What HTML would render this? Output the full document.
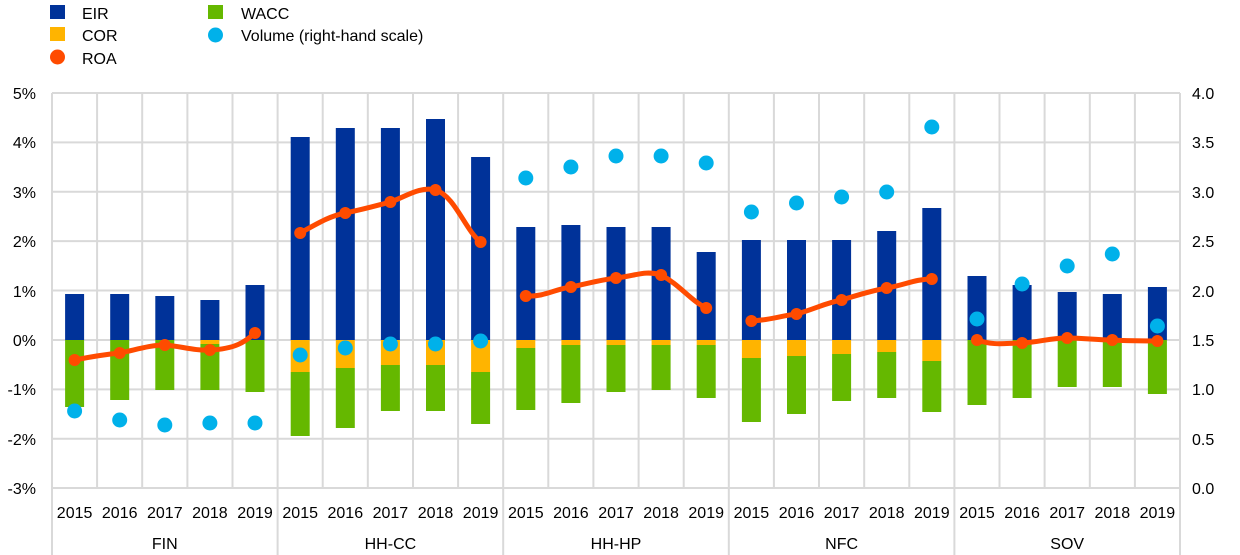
<!DOCTYPE html><html><head><style>body{margin:0;background:#fff}svg{display:block;font-family:"Liberation Sans",Arial,sans-serif}</style></head><body>
<svg width="1240" height="555" xmlns="http://www.w3.org/2000/svg">
<g stroke="#d9d9d9" stroke-width="2">
<line x1="52" y1="93" x2="1180" y2="93"/><line x1="52" y1="142.4" x2="1180" y2="142.4"/><line x1="52" y1="191.8" x2="1180" y2="191.8"/><line x1="52" y1="241.1" x2="1180" y2="241.1"/><line x1="52" y1="290.5" x2="1180" y2="290.5"/><line x1="52" y1="340" x2="1180" y2="340"/><line x1="52" y1="389.4" x2="1180" y2="389.4"/><line x1="52" y1="438.8" x2="1180" y2="438.8"/><line x1="52" y1="488" x2="1180" y2="488"/>
<line x1="52" y1="93" x2="52" y2="555"/><line x1="97.1" y1="93" x2="97.1" y2="488"/><line x1="142.2" y1="93" x2="142.2" y2="488"/><line x1="187.4" y1="93" x2="187.4" y2="488"/><line x1="232.5" y1="93" x2="232.5" y2="488"/>
<line x1="277.6" y1="93" x2="277.6" y2="555"/><line x1="322.7" y1="93" x2="322.7" y2="488"/><line x1="367.8" y1="93" x2="367.8" y2="488"/><line x1="413" y1="93" x2="413" y2="488"/><line x1="458.1" y1="93" x2="458.1" y2="488"/>
<line x1="503.2" y1="93" x2="503.2" y2="555"/><line x1="548.3" y1="93" x2="548.3" y2="488"/><line x1="593.4" y1="93" x2="593.4" y2="488"/><line x1="638.6" y1="93" x2="638.6" y2="488"/><line x1="683.7" y1="93" x2="683.7" y2="488"/>
<line x1="728.8" y1="93" x2="728.8" y2="555"/><line x1="773.9" y1="93" x2="773.9" y2="488"/><line x1="819" y1="93" x2="819" y2="488"/><line x1="864.2" y1="93" x2="864.2" y2="488"/><line x1="909.3" y1="93" x2="909.3" y2="488"/>
<line x1="954.4" y1="93" x2="954.4" y2="555"/><line x1="999.5" y1="93" x2="999.5" y2="488"/><line x1="1044.6" y1="93" x2="1044.6" y2="488"/><line x1="1089.8" y1="93" x2="1089.8" y2="488"/><line x1="1134.9" y1="93" x2="1134.9" y2="488"/>
<line x1="1180" y1="93" x2="1180" y2="555"/>
</g>
<!-- EIR -->
<g fill="#003299">
<rect x="65.1" y="294" width="19" height="46"/><rect x="110.2" y="294" width="19" height="46"/><rect x="155.3" y="296" width="19" height="44"/><rect x="200.4" y="300" width="19" height="40"/><rect x="245.5" y="285" width="19" height="55"/>
<rect x="290.7" y="137" width="19" height="203"/><rect x="335.8" y="128" width="19" height="212"/><rect x="380.9" y="128" width="19" height="212"/><rect x="426" y="119" width="19" height="221"/><rect x="471.1" y="157" width="19" height="183"/>
<rect x="516.3" y="227" width="19" height="113"/><rect x="561.4" y="225" width="19" height="115"/><rect x="606.5" y="227" width="19" height="113"/><rect x="651.6" y="227" width="19" height="113"/><rect x="696.7" y="252" width="19" height="88"/>
<rect x="741.9" y="240" width="19" height="100"/><rect x="787" y="240" width="19" height="100"/><rect x="832.1" y="240" width="19" height="100"/><rect x="877.2" y="231" width="19" height="109"/><rect x="922.3" y="208" width="19" height="132"/>
<rect x="967.5" y="276" width="19" height="64"/><rect x="1012.6" y="285" width="19" height="55"/><rect x="1057.7" y="292" width="19" height="48"/><rect x="1102.8" y="294" width="19" height="46"/><rect x="1147.9" y="287" width="19" height="53"/>
</g>
<!-- COR -->
<g fill="#ffb400">
<rect x="200.4" y="340" width="19" height="4"/>
<rect x="290.7" y="340" width="19" height="32"/><rect x="335.8" y="340" width="19" height="28"/><rect x="380.9" y="340" width="19" height="25"/><rect x="426" y="340" width="19" height="25"/><rect x="471.1" y="340" width="19" height="32"/>
<rect x="516.3" y="340" width="19" height="8"/><rect x="561.4" y="340" width="19" height="5"/><rect x="606.5" y="340" width="19" height="5"/><rect x="651.6" y="340" width="19" height="5"/><rect x="696.7" y="340" width="19" height="5"/>
<rect x="741.9" y="340" width="19" height="18"/><rect x="787" y="340" width="19" height="16"/><rect x="832.1" y="340" width="19" height="14"/><rect x="877.2" y="340" width="19" height="12"/><rect x="922.3" y="340" width="19" height="21"/>
</g>
<!-- WACC -->
<g fill="#65b800">
<rect x="65.1" y="340" width="19" height="67"/><rect x="110.2" y="340" width="19" height="60"/><rect x="155.3" y="340" width="19" height="50"/><rect x="200.4" y="344" width="19" height="46"/><rect x="245.5" y="340" width="19" height="52"/>
<rect x="290.7" y="372" width="19" height="64"/><rect x="335.8" y="368" width="19" height="60"/><rect x="380.9" y="365" width="19" height="46"/><rect x="426" y="365" width="19" height="46"/><rect x="471.1" y="372" width="19" height="52"/>
<rect x="516.3" y="348" width="19" height="62"/><rect x="561.4" y="345" width="19" height="58"/><rect x="606.5" y="345" width="19" height="47"/><rect x="651.6" y="345" width="19" height="45"/><rect x="696.7" y="345" width="19" height="53"/>
<rect x="741.9" y="358" width="19" height="64"/><rect x="787" y="356" width="19" height="58"/><rect x="832.1" y="354" width="19" height="47"/><rect x="877.2" y="352" width="19" height="46"/><rect x="922.3" y="361" width="19" height="51"/>
<rect x="967.5" y="340" width="19" height="65"/><rect x="1012.6" y="340" width="19" height="58"/><rect x="1057.7" y="340" width="19" height="47"/><rect x="1102.8" y="340" width="19" height="47"/><rect x="1147.9" y="340" width="19" height="54"/>
</g>
<!-- ROA -->
<g fill="none" stroke="#ff4b00" stroke-width="5" stroke-linejoin="round" stroke-linecap="round">
<path d="M74.6,360 C100,355 110,354 119.7,353 C135,350 150,345 164.8,345 C180,346 195,351 209.9,350 C235,349 245,342 255,333"/>
<path d="M300.2,233 C320,222 330,216 345.3,213 C365,209 375,206 390.4,202 C405,197 420,186 435.5,190 C455,196 465,230 480.6,242"/>
<path d="M525.8,296 C545,297 555,289 570.9,287 C590,283 600,280 616,278 C635,276 645,270 661.1,275 C680,285 690,300 706.2,308"/>
<path d="M751.4,321 C770,320 780,316 796.5,314 C815,309 825,303 841.6,300 C855,296 870,291 886.7,288 C905,285 915,279 931.8,279"/>
<path d="M977,340 C995,346 1005,343 1022.1,343 C1040,342 1050,338 1067.2,338 C1085,338 1095,340 1112.3,340 C1130,341 1145,341 1157.4,341"/>
</g>
<g fill="#ff4b00">
<circle cx="74.6" cy="360" r="6"/><circle cx="119.7" cy="353" r="6"/><circle cx="164.8" cy="345" r="6"/><circle cx="209.9" cy="350" r="6"/><circle cx="255" cy="333" r="6"/>
<circle cx="300.2" cy="233" r="6"/><circle cx="345.3" cy="213" r="6"/><circle cx="390.4" cy="202" r="6"/><circle cx="435.5" cy="190" r="6"/><circle cx="480.6" cy="242" r="6"/>
<circle cx="525.8" cy="296" r="6"/><circle cx="570.9" cy="287" r="6"/><circle cx="616" cy="278" r="6"/><circle cx="661.1" cy="275" r="6"/><circle cx="706.2" cy="308" r="6"/>
<circle cx="751.4" cy="321" r="6"/><circle cx="796.5" cy="314" r="6"/><circle cx="841.6" cy="300" r="6"/><circle cx="886.7" cy="288" r="6"/><circle cx="931.8" cy="279" r="6"/>
<circle cx="977" cy="340" r="6"/><circle cx="1022.1" cy="343" r="6"/><circle cx="1067.2" cy="338" r="6"/><circle cx="1112.3" cy="340" r="6"/><circle cx="1157.4" cy="341" r="6"/>
</g>
<!-- Volume -->
<g fill="#00b1ea">
<circle cx="74.6" cy="411" r="7.5"/><circle cx="119.7" cy="420" r="7.5"/><circle cx="164.8" cy="425" r="7.5"/><circle cx="209.9" cy="423" r="7.5"/><circle cx="255" cy="423" r="7.5"/>
<circle cx="300.2" cy="355" r="7.5"/><circle cx="345.3" cy="348" r="7.5"/><circle cx="390.4" cy="344" r="7.5"/><circle cx="435.5" cy="344" r="7.5"/><circle cx="480.6" cy="341" r="7.5"/>
<circle cx="525.8" cy="178" r="7.5"/><circle cx="570.9" cy="167" r="7.5"/><circle cx="616" cy="156" r="7.5"/><circle cx="661.1" cy="156" r="7.5"/><circle cx="706.2" cy="163" r="7.5"/>
<circle cx="751.4" cy="212" r="7.5"/><circle cx="796.5" cy="203" r="7.5"/><circle cx="841.6" cy="197" r="7.5"/><circle cx="886.7" cy="192" r="7.5"/><circle cx="931.8" cy="127" r="7.5"/>
<circle cx="977" cy="319" r="7.5"/><circle cx="1022.1" cy="284" r="7.5"/><circle cx="1067.2" cy="266" r="7.5"/><circle cx="1112.3" cy="254" r="7.5"/><circle cx="1157.4" cy="326" r="7.5"/>
</g>
<!-- axes labels -->
<g font-size="16" fill="#000" text-anchor="end">
<text x="36" y="99">5%</text><text x="36" y="148">4%</text><text x="36" y="198">3%</text><text x="36" y="247">2%</text><text x="36" y="297">1%</text><text x="36" y="346">0%</text><text x="36" y="395">-1%</text><text x="36" y="445">-2%</text><text x="36" y="494">-3%</text>
</g>
<g font-size="16" fill="#000">
<text x="1192" y="99">4.0</text><text x="1192" y="148">3.5</text><text x="1192" y="198">3.0</text><text x="1192" y="247">2.5</text><text x="1192" y="297">2.0</text><text x="1192" y="346">1.5</text><text x="1192" y="395">1.0</text><text x="1192" y="445">0.5</text><text x="1192" y="494">0.0</text>
</g>
<g font-size="16" fill="#000" text-anchor="middle">
<text x="74.6" y="518">2015</text><text x="119.7" y="518">2016</text><text x="164.8" y="518">2017</text><text x="209.9" y="518">2018</text><text x="255" y="518">2019</text>
<text x="300.2" y="518">2015</text><text x="345.3" y="518">2016</text><text x="390.4" y="518">2017</text><text x="435.5" y="518">2018</text><text x="480.6" y="518">2019</text>
<text x="525.8" y="518">2015</text><text x="570.9" y="518">2016</text><text x="616" y="518">2017</text><text x="661.1" y="518">2018</text><text x="706.2" y="518">2019</text>
<text x="751.4" y="518">2015</text><text x="796.5" y="518">2016</text><text x="841.6" y="518">2017</text><text x="886.7" y="518">2018</text><text x="931.8" y="518">2019</text>
<text x="977" y="518">2015</text><text x="1022.1" y="518">2016</text><text x="1067.2" y="518">2017</text><text x="1112.3" y="518">2018</text><text x="1157.4" y="518">2019</text>
<text x="164.8" y="549">FIN</text><text x="390.4" y="549">HH-CC</text><text x="616" y="549">HH-HP</text><text x="841.6" y="549">NFC</text><text x="1067.2" y="549">SOV</text>
</g>
<!-- legend -->
<rect x="50" y="5" width="15" height="14" fill="#003299"/>
<rect x="50" y="27" width="15" height="14" fill="#ffb400"/>
<circle cx="57.5" cy="57" r="7.5" fill="#ff4b00"/>
<rect x="208" y="5" width="15" height="14" fill="#65b800"/>
<circle cx="215.5" cy="35" r="7.5" fill="#00b1ea"/>
<g font-size="16" fill="#000">
<text x="82" y="19">EIR</text><text x="82" y="41">COR</text><text x="82" y="64">ROA</text>
<text x="241" y="19">WACC</text><text x="241" y="41">Volume (right-hand scale)</text>
</g>
</svg>
</body></html>
